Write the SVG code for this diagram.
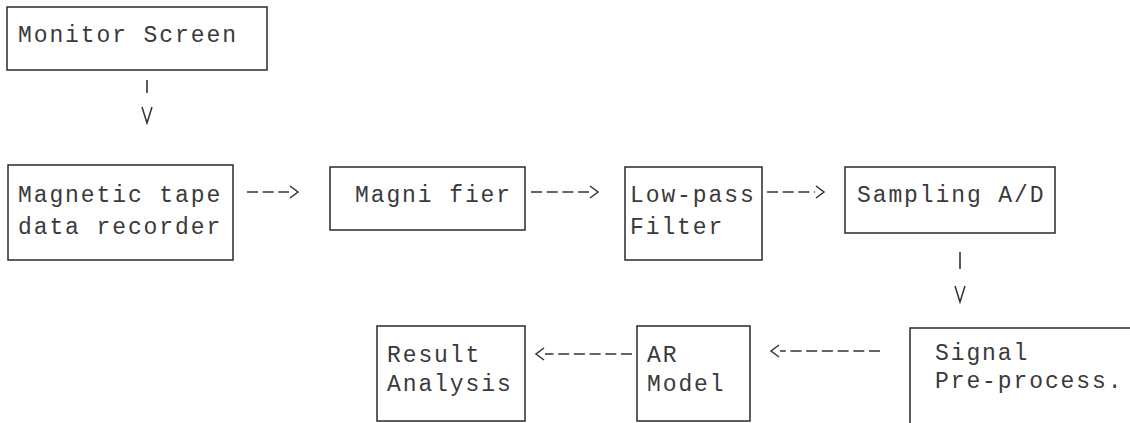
<svg xmlns="http://www.w3.org/2000/svg" width="1130" height="423" viewBox="0 0 1130 423">
<style>
  .box { fill: none; stroke: #2a2a2a; stroke-width: 1.5; }
  .lbl { font-family: "Liberation Mono", "DejaVu Sans Mono", monospace; font-size: 23px; letter-spacing: 1.9px; fill: #3a3a3a; }
  .dash { fill: none; stroke: #333; stroke-width: 1.6; stroke-dasharray: 11 4.7; }
  .vdash { fill: none; stroke: #333; stroke-width: 1.6; stroke-dasharray: 13 200; }
</style>
<defs>
  <marker id="chev" markerUnits="userSpaceOnUse" markerWidth="14" markerHeight="16" viewBox="-2 -8 14 16" refX="0" refY="0" orient="auto">
    <path d="M1,-6 L9,0 L1,6" fill="none" stroke="#333" stroke-width="1.5"/>
  </marker>
  <marker id="vee" markerUnits="userSpaceOnUse" markerWidth="20" markerHeight="14" viewBox="-18 -7 20 14" refX="0" refY="0" orient="auto">
    <path d="M-16,-5 L0,0 L-16,5" fill="none" stroke="#333" stroke-width="1.5"/>
  </marker>
</defs>
<rect width="1130" height="423" fill="#ffffff"/>

<g id="monitor">
  <rect class="box" x="7" y="7" width="260" height="63"/>
  <text class="lbl" x="18" y="42">Monitor Screen</text>
</g>
<g id="tape">
  <rect class="box" x="8" y="165" width="225" height="95"/>
  <text class="lbl" x="18" y="202">Magnetic tape</text>
  <text class="lbl" x="18" y="234">data recorder</text>
</g>
<g id="magnifier">
  <rect class="box" x="330" y="167" width="195" height="63"/>
  <text class="lbl" x="355" y="202">Magni fier</text>
</g>
<g id="lowpass">
  <rect class="box" x="625" y="167" width="137" height="93"/>
  <text class="lbl" x="630" y="202">Low-pass</text>
  <text class="lbl" x="630" y="234">Filter</text>
</g>
<g id="sampling">
  <rect class="box" x="845" y="167" width="210" height="66"/>
  <text class="lbl" x="857" y="202">Sampling A/D</text>
</g>
<g id="signal">
  <rect class="box" x="910" y="328" width="240" height="110"/>
  <text class="lbl" x="935" y="360">Signal</text>
  <text class="lbl" x="935" y="388">Pre-process.</text>
</g>
<g id="ar">
  <rect class="box" x="637" y="326" width="113" height="95"/>
  <text class="lbl" x="647" y="362">AR</text>
  <text class="lbl" x="647" y="391">Model</text>
</g>
<g id="result">
  <rect class="box" x="377" y="326" width="148" height="95"/>
  <text class="lbl" x="387" y="362">Result</text>
  <text class="lbl" x="387" y="391">Analysis</text>
</g>

<g id="connectors">
  <path class="vdash" d="M147,80 L147,123" marker-end="url(#vee)"/>
  <path class="dash" d="M247,192 L289,192" marker-end="url(#chev)"/>
  <path class="dash" d="M531,192 L589,192" marker-end="url(#chev)"/>
  <path class="dash" d="M767,192 L815,192" marker-end="url(#chev)"/>
  <path class="vdash" d="M960,252 L960,302" style="stroke-dasharray:17 200" marker-end="url(#vee)"/>
  <path class="dash" d="M880,351 L780,351" marker-end="url(#chev)"/>
  <path class="dash" d="M632,354 L545,354" marker-end="url(#chev)"/>
</g>
</svg>
